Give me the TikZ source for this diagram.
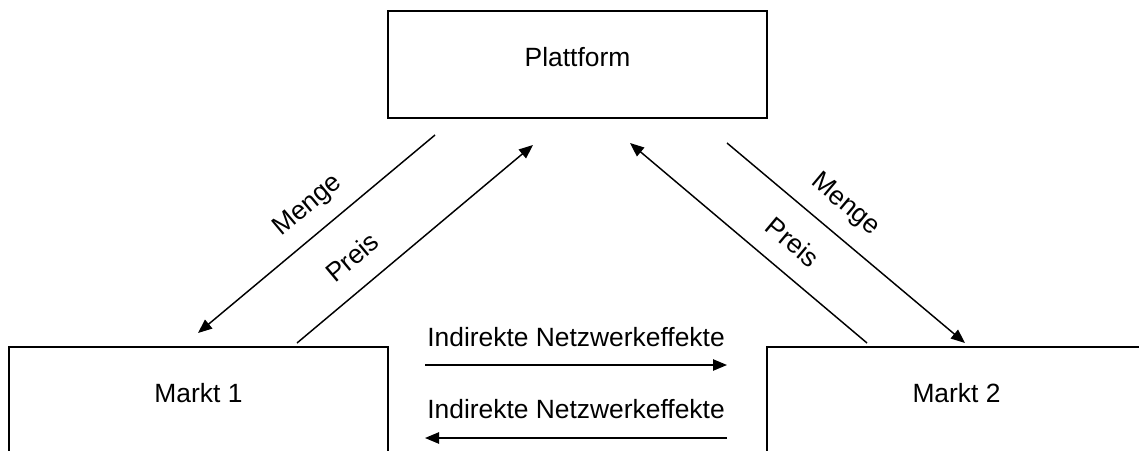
\documentclass[tikz,border=0pt]{standalone}
\usepackage{fontspec}
\setmainfont{Liberation Sans}
\usetikzlibrary{arrows.meta}
\begin{document}
\begin{tikzpicture}[x=0.75pt,y=-0.75pt,
  font=\fontsize{19.8}{24}\selectfont,
  box/.style={draw, line width=1.1pt, inner sep=0pt, outer sep=0pt,
    minimum width=284.25pt, minimum height=80.25pt, anchor=north west},
  conn/.style={line width=1.1pt, -{Triangle[length=10.5pt,width=8.5pt]}},
  lbl/.style={inner sep=0pt}]
\clip (0,0) rectangle (1139,450);
\fill[white] (0,0) rectangle (1139,450);
% boxes
\node[box] (plat) at (388,11) {};
\node[box] (m1) at (9,347) {};
\node[box] (m2) at (767,347) {};
\node[lbl] (tplat) at (577.5,57) {Plattform};
\node[lbl] (tm1) at (198.5,393) {Markt 1};
\node[lbl] (tm2) at (956.5,393) {Markt 2};
% connector end points
\coordinate (mL1) at (435,135); \coordinate (mL2) at (198,333);
\coordinate (pL1) at (297,343); \coordinate (pL2) at (533,145);
\coordinate (pR1) at (867,343); \coordinate (pR2) at (630,143);
\coordinate (mR1) at (727,143); \coordinate (mR2) at (965,343);
\coordinate (n1a) at (425,365); \coordinate (n1b) at (727,365);
\coordinate (n2a) at (727,438); \coordinate (n2b) at (425,438);
% connectors
\draw[conn] (mL1) -- (mL2);
\draw[conn] (pL1) -- (pL2);
\draw[conn] (pR1) -- (pR2);
\draw[conn] (mR1) -- (mR2);
\draw[conn] (n1a) -- (n1b);
\draw[conn] (n2a) -- (n2b);
% labels
\node[lbl, rotate=40] (lm) at (308,206) {Menge};
\node[lbl, rotate=40] (lp) at (352,257) {Preis};
\node[lbl, rotate=-40] (rm) at (845,205) {Menge};
\node[lbl, rotate=-40] (rp) at (793,242) {Preis};
\node[lbl] (ine1) at (576,337) {Indirekte Netzwerkeffekte};
\node[lbl] (ine2) at (576,409) {Indirekte Netzwerkeffekte};
\end{tikzpicture}
\end{document}
